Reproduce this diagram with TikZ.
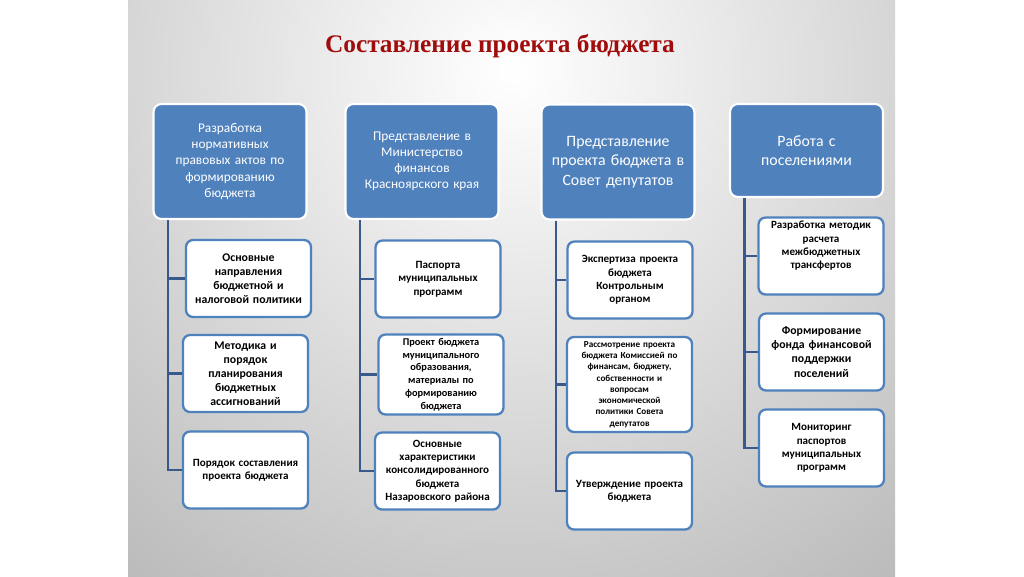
\documentclass[tikz,border=0pt]{standalone}
\usepackage{fontspec}
\setmainfont{Carlito}
\newfontfamily\titlefont{Liberation Serif}
\usetikzlibrary{positioning}

\definecolor{headblue}{RGB}{79,129,189}
\definecolor{tieblue}{RGB}{56,90,138}
\definecolor{titlered}{RGB}{160,12,12}

\begin{document}
\begin{tikzpicture}[
  x=0.02cm, y=-0.02cm,
  head/.style={
    rectangle, rounded corners=4.5pt, draw=white, line width=1.2pt,
    fill=headblue, text=white, inner sep=2pt,
    minimum width=3.06cm, minimum height=2.3cm, text width=2.8cm,
    align=center, font=\fontsize{7.6}{9.2}\selectfont
  },
  bighead/.style={head, font=\fontsize{9}{11}\selectfont},
  item/.style={
    rectangle, rounded corners=4pt, draw=headblue, line width=1.3pt,
    fill=white, inner sep=2pt,
    minimum width=2.46cm, minimum height=1.54cm, text width=2.36cm,
    align=center, font=\bfseries\fontsize{6.3}{7.6}\selectfont
  },
  wideitem/.style={item, font=\bfseries\fontsize{6.7}{8}\selectfont},
  smallitem/.style={item, font=\bfseries\fontsize{5.9}{7.3}\selectfont},
  tinyitem/.style={item, font=\bfseries\fontsize{5.2}{6.4}\selectfont},
  tie/.style={draw=tieblue, line width=1.6pt},
]

%%% Slide background
\useasboundingbox (0,0) rectangle (1024,576);
\fill[white] (0,0) rectangle (1024,576);
\fill[black!42] (128,0) rectangle (895,576);
\begin{scope}
  \clip (128,0) rectangle (895,576);
  \shade[inner color=white, outer color=black!42] (512,70) circle (20cm);
\end{scope}

%%% Title
\node[font=\titlefont\bfseries\fontsize{14.4}{17}\selectfont, text=titlered]
  (title) at (500,46) {Составление проекта бюджета};

%%% Column heads
\node[head]    (h1) at (230,161.5) {Разработка\\ нормативных\\ правовых актов по\\ формированию\\ бюджета};
\node[head]    (h2) at (422,161.5) {Представление в\\ Министерство\\ финансов\\ Красноярского края};
\node[bighead] (h3) at (618,162)   {Представление\\ проекта бюджета в\\ Совет депутатов};
\node[bighead, minimum height=1.86cm] (h4) at (806.5,150.5) {Работа с\\ поселениями};

%%% Column 1
\node[wideitem] (c11) at (248.5,278.5) {Основные\\ направления\\ бюджетной и\\ налоговой политики};
\node[wideitem] (c12) at (245.5,373.5) {Методика и\\ порядок\\ планирования\\ бюджетных\\ ассигнований};
\node[item]     (c13) at (245.5,470)   {Порядок составления\\ проекта бюджета};

%%% Column 2
\node[item]      (c21) at (438,279)   {Паспорта\\ муниципальных\\ программ};
\node[smallitem] (c22) at (441,374.5) {Проект бюджета\\ муниципального\\ образования,\\ материалы по\\ формированию\\ бюджета};
\node[item]      (c23) at (437.5,471) {Основные\\ характеристики\\ консолидированного\\ бюджета\\ Назаровского района};

%%% Column 3
\node[item]     (c31) at (630,280)   {Экспертиза проекта\\ бюджета\\ Контрольным\\ органом};
\node[tinyitem, minimum height=1.9cm] (c32) at (629.5,384.5) {Рассмотрение проекта\\ бюджета Комиссией по\\ финансам, бюджету,\\ собственности и\\ вопросам\\ экономической\\ политики Совета\\ депутатов};
\node[item]     (c33) at (629.5,491) {Утверждение проекта\\ бюджета};

%%% Column 4
\node[item, text depth=1.24cm] (c41) at (821,256) {Разработка методик\\ расчета\\ межбюджетных\\ трансфертов};
\node[wideitem] (c42) at (821.5,352) {Формирование\\ фонда финансовой\\ поддержки\\ поселений};
\node[item]     (c43) at (821.5,448) {Мониторинг\\ паспортов\\ муниципальных\\ программ};

%%% Ties from each head down to its items
\foreach \h/\a/\b/\c in {h1/c11/c12/c13, h2/c21/c22/c23, h3/c31/c32/c33, h4/c41/c42/c43} {
  \draw[tie] ([xshift=0.31cm]\h.south west) |- (\a.west);
  \draw[tie] ([xshift=0.31cm]\h.south west) |- (\b.west);
  \draw[tie] ([xshift=0.31cm]\h.south west) |- (\c.west);
}

\end{tikzpicture}
\end{document}
